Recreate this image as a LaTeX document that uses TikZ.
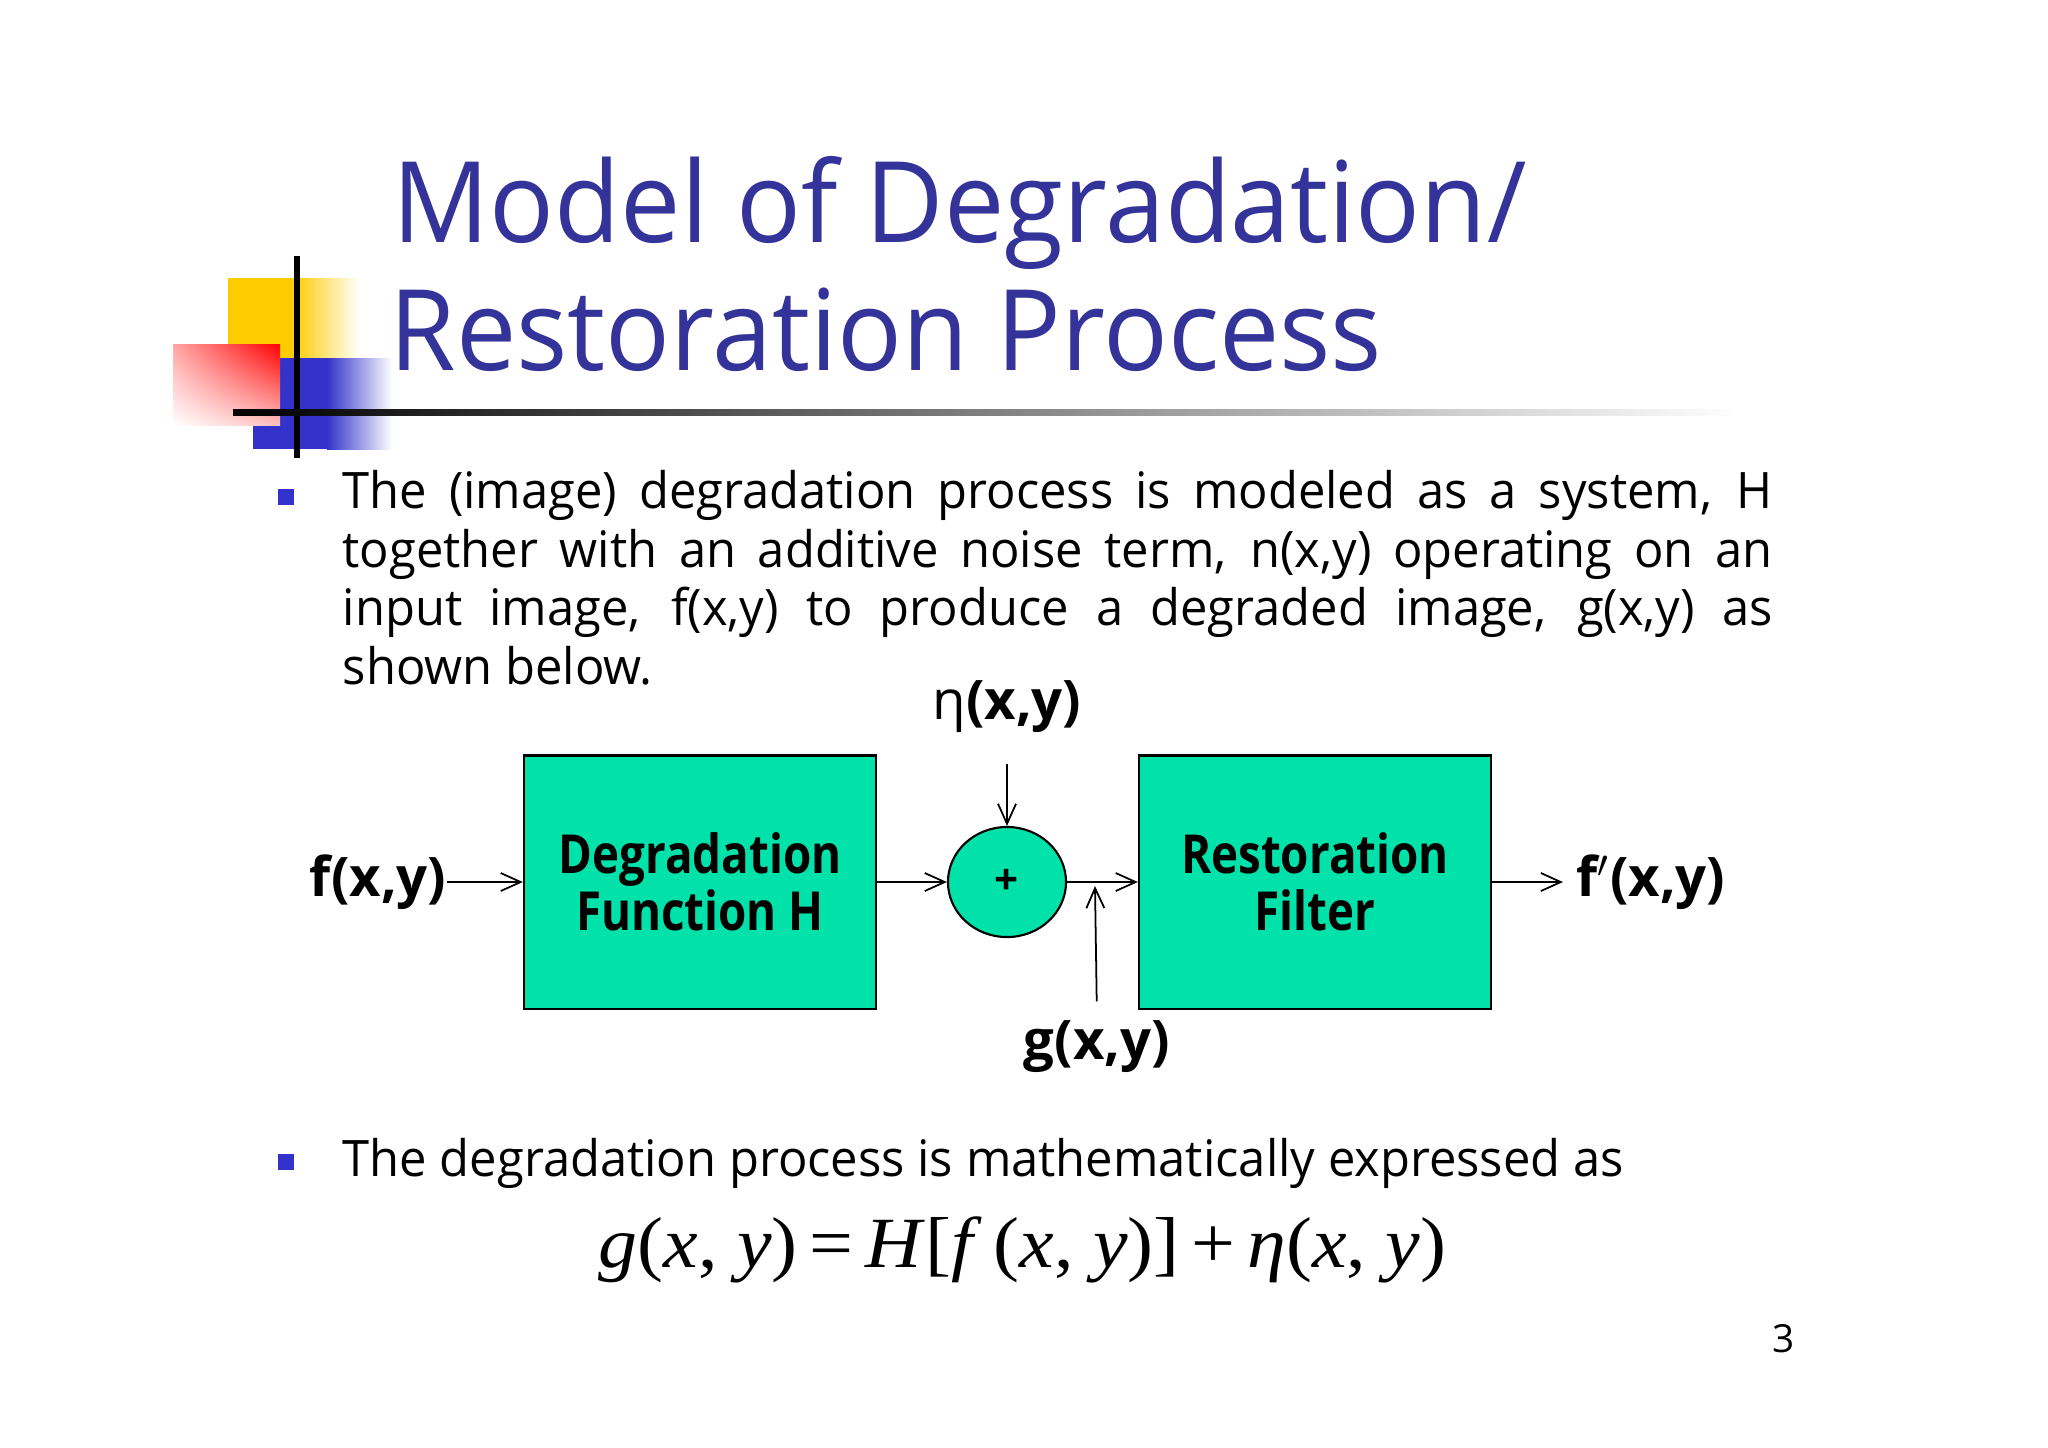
\documentclass[tikz,border=0pt]{standalone}
\usepackage{fontspec}
\setmainfont{Open Sans}
\newfontfamily\titlefont[FakeStretch=0.956]{Open Sans}
\newfontfamily\bodyfont[FakeStretch=0.972]{Open Sans}
\newfontfamily\blockfont[FakeStretch=0.85]{Open Sans}
\newfontfamily\eqfont[FakeStretch=1.08]{Liberation Serif}
\usetikzlibrary{arrows.meta,positioning,shapes.geometric,shadings}
\definecolor{titleblue}{RGB}{51,51,153}
\definecolor{bulletblue}{RGB}{51,51,204}
\definecolor{boxgreen}{RGB}{0,226,170}
\definecolor{logoyellow}{RGB}{255,204,0}
\definecolor{logored}{RGB}{255,0,0}
\definecolor{logoblue}{RGB}{51,51,204}
\newcommand{\iv}[1]{\textit{#1}}
\tikzset{
  titletext/.style={anchor=base west, inner sep=0pt, text=titleblue,
    font=\titlefont\fontsize{32}{38}\selectfont},
  bodytext/.style={inner sep=0pt, font=\bodyfont\fontsize{14.3}{16.6}\selectfont},
  bulletbox/.style={fill=bulletblue, minimum size=0.16cm, inner sep=0pt},
  blockbox/.style={draw=black, line width=0.6pt, fill=boxgreen,
    minimum width=3.52cm, minimum height=2.53cm, align=center, inner sep=0pt,
    font=\blockfont\bfseries\fontsize{15.3}{16.2}\selectfont},
  sumnode/.style={ellipse, draw=black, line width=0.6pt, fill=boxgreen,
    minimum width=1.18cm, minimum height=1.1cm, inner sep=0pt,
    font=\bfseries\fontsize{12}{12}\selectfont},
  sigtext/.style={inner sep=0pt, font=\bfseries\fontsize{15.5}{18}\selectfont},
  flow/.style={-{Straight Barb[length=2mm,width=1.8mm]}, line width=0.5pt}
}

\begin{document}
\begin{tikzpicture}[x=0.01cm, y=-0.01cm]
\useasboundingbox[fill=white] (0,0) rectangle (2048,1447);

% logo
\fill[logoyellow] (228,278) rectangle (294,358);
\shade[left color=logoyellow, right color=white] (293,278) rectangle (360,358);
\fill[logoblue] (253,358) rectangle (328,449);
\shade[left color=logoblue, right color=white] (327,358) rectangle (392,449);
\shade[upper right=logored, upper left=red!35, lower right=red!25, lower left=white]
  (173,344) rectangle (280,425);
\fill[black] (294,256) rectangle (300,458);
\shade[left color=black, right color=white] (233,409) rectangle (1740,415);

% title
\node[titletext] (title1) at (392,242) {Model of Degradation/};
\node[titletext] (title2) at (389,370) {Restoration Process};

% bullets
\node[bulletbox] (b1) at (286,497) {};
\node[bulletbox] (b2) at (286,1162) {};
\node[bodytext, anchor=north west, text width=14.29cm, align=justify] (para) at (342,470)
  {The (image) degradation process is modeled as a system, H\linebreak
   together with an additive noise term, n(x,y) operating on an\linebreak
   input image, f(x,y) to produce a degraded image, g(x,y) as\linebreak
   shown below.};
\node[bodytext, anchor=base west] (expr) at (342,1176)
  {The degradation process is mathematically expressed as};
\node[inner sep=0pt, anchor=base west, font=\eqfont\fontsize{20.5}{24}\selectfont] (eqn) at (598,1267)
  {\iv{g}(\iv{x}, \iv{y})\,=\,\iv{H}[\iv{f}\,(\iv{x}, \iv{y})]\,+\,\iv{η}(\iv{x}, \iv{y})};

% block diagram
\node[blockbox] (deg) at (700,882) {Degradation\\Function H};
\node[sumnode] (sum) at (1007,882) {+};
\node[blockbox] (rst) at (1315,882) {Restoration\\Filter};
\node[sigtext, anchor=east] (fin) at (447,882) {f(x,y)};
\node[sigtext, anchor=west, inner xsep=0.13cm] (fout) at (1563,882) {f$'$(x,y)};
\node[sigtext] (eta) at (1007,707) {{\mdseries η}(x,y)};
\node[sigtext] (glab) at (1097,1047) {g(x,y)};
\coordinate (gin) at (1095,886);

\draw[flow] (fin.east |- deg) -- (deg.west);
\draw[flow] (deg) -- (sum);
\draw[flow] (sum) -- (rst);
\draw[flow] (rst.east) -- (rst.east -| fout.west);
\draw[flow, shorten <=0.3cm] (eta) -- (sum);
\draw[flow, shorten <=0.19cm] (glab.north) -- (gin);

\node[inner sep=0pt, font=\fontsize{11}{13}\selectfont] (pagenum) at (1784,1339) {3};
\end{tikzpicture}
\end{document}
